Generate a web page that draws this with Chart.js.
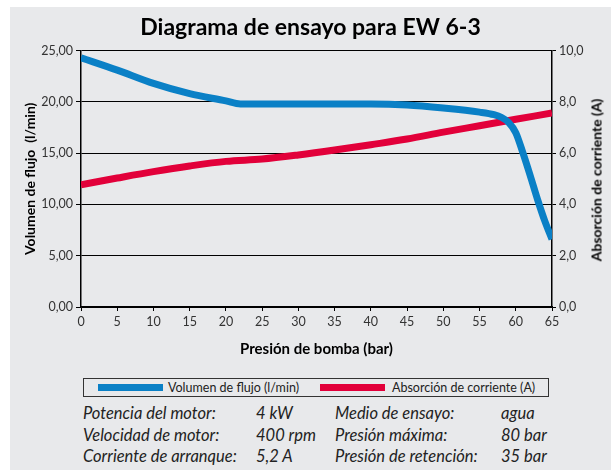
<!DOCTYPE html>
<html lang="es">
<head>
<meta charset="UTF-8" />
<title>Diagrama de ensayo para EW 6-3</title>
<script src="https://cdn.jsdelivr.net/npm/chart.js"></script>
<style>
  body { margin: 0; background: #fff; font-family: Lato, "Open Sans", sans-serif; }
  #panel { position: absolute; left: 10px; top: 7px; width: 601px; height: 463px; background: #e8e9eb; }
  #chart { position: absolute; left: 0; top: 0; }
  #rightTitle { position: absolute; left: 586px; top: 173px; transform: translate(-50%, -50%) rotate(-90deg);
    font-weight: bold; font-size: 14px; color: #000; white-space: nowrap; }
  #legendBox { position: absolute; left: 73px; top: 371px; width: 464px; height: 17px;
    border: 1.5px solid #333; font-size: 12.5px; color: #222; }
  .sw { position: absolute; top: 5px; height: 7px; width: 65px; }
  .lt { position: absolute; top: 0px; line-height: 17px; white-space: nowrap; }
  .info { position: absolute; font-style: italic; font-size: 16.5px; color: #222; white-space: nowrap; line-height: 18px; }
</style>
</head>
<body>
<div id="panel">
  <canvas id="chart" width="601" height="355"></canvas>
  <div id="rightTitle"></div>
  <div id="legendBox"></div>
  <div id="info"></div>
</div>
<script>
const pressureFlow = [0, 5, 10, 15, 20, 22, 25, 30, 35, 40, 45, 50, 55, 57, 58, 59, 60, 61, 62, 63, 64, 65];
const flow = [24.3, 23.1, 21.8, 20.8, 20.1, 19.8, 19.8, 19.8, 19.8, 19.8, 19.7, 19.4, 19.0, 18.75, 18.5, 18.0, 17.0, 15.0, 12.8, 10.5, 8.4, 6.6];
const pressureCurrent = [0, 5, 10, 15, 20, 25, 30, 35, 40, 45, 50, 55, 60, 65];
const current = [4.77, 5.03, 5.28, 5.5, 5.68, 5.77, 5.93, 6.12, 6.33, 6.55, 6.82, 7.07, 7.32, 7.57];
const seriesNames = ["Volumen de flujo (l/min)", "Absorción de corriente (A)"];
const seriesColors = ["#0a80c6", "#e2003a"];
const infoRows = [
  ["Potencia del motor:", "4 kW", "Medio de ensayo:", "agua"],
  ["Velocidad de motor:", "400 rpm", "Presión máxima:", "80 bar"],
  ["Corriente de arranque:", "5,2 A", "Presión de retención:", "35 bar"]
];

Chart.defaults.font.family = "Lato, 'Open Sans', sans-serif";
Chart.defaults.color = "#333";

const toXY = (xs, ys) => xs.map((x, i) => ({ x: x, y: ys[i] }));

new Chart(document.getElementById("chart"), {
  type: "line",
  data: {
    datasets: [
      {
        label: seriesNames[0],
        data: toXY(pressureFlow, flow),
        borderColor: seriesColors[0],
        borderWidth: 7,
        pointRadius: 0,
        cubicInterpolationMode: "monotone",
        yAxisID: "y"
      },
      {
        label: seriesNames[1],
        data: toXY(pressureCurrent, current),
        borderColor: seriesColors[1],
        borderWidth: 7,
        pointRadius: 0,
        cubicInterpolationMode: "monotone",
        yAxisID: "y2"
      }
    ]
  },
  options: {
    responsive: false,
    animation: false,
    devicePixelRatio: 1,
    layout: { padding: 0 },
    plugins: {
      legend: { display: false },
      tooltip: { enabled: false },
      title: {
        display: true,
        text: "Diagrama de ensayo para EW 6-3",
        color: "#000",
        font: { size: 23, weight: "bold" },
        padding: { top: 7, bottom: 9 }
      }
    },
    scales: {
      x: {
        type: "linear",
        min: 0, max: 65,
        ticks: { stepSize: 5, font: { size: 12.5 }, color: "#333", padding: 3 },
        grid: { drawOnChartArea: false, drawTicks: true, tickLength: 4, color: "#000" },
        border: { color: "#000", width: 1.5 },
        title: { display: true, text: "Presión de bomba (bar)", color: "#000",
          font: { size: 15, weight: "bold" }, padding: { top: 2 } },
        afterFit: s => { s.height = 55; }
      },
      y: {
        position: "left",
        min: 0, max: 25,
        ticks: { stepSize: 5, font: { size: 12.5 }, color: "#333", padding: 3,
          callback: v => v.toFixed(2).replace(".", ",") },
        grid: { color: "#000", lineWidth: 1, tickLength: 5 },
        border: { color: "#000", width: 1.5 },
        title: { display: true, text: "Volumen de flujo  (l/min)", color: "#000",
          font: { size: 14, weight: "bold" }, padding: { top: 12, bottom: 0 } },
        afterFit: s => { s.width = 71; }
      },
      y2: {
        position: "right",
        min: 0, max: 10,
        ticks: { stepSize: 2, font: { size: 12.5 }, color: "#333", padding: 3,
          callback: v => v.toFixed(1).replace(".", ",") },
        grid: { drawOnChartArea: false, color: "#000", tickLength: 4 },
        border: { color: "#000", width: 1.5 },
        afterFit: s => { s.width = 59; }
      }
    }
  }
});

// título del eje derecho (leído de abajo hacia arriba, como el izquierdo)
document.getElementById("rightTitle").textContent = seriesNames[1];

// leyenda
const box = document.getElementById("legendBox");
const swLeft = [14, 236];
const txtLeft = [84, 308];
seriesNames.forEach((name, i) => {
  box.insertAdjacentHTML("beforeend",
    `<div class="sw" style="left:${swLeft[i]}px;background:${seriesColors[i]}"></div>` +
    `<div class="lt" style="left:${txtLeft[i]}px">${name}</div>`);
});

// datos del motor
const colX = [73, 246, 325, 491];
const rowY = [397, 419, 440];
const info = document.getElementById("info");
infoRows.forEach((row, r) => {
  row.forEach((t, c) => {
    info.insertAdjacentHTML("beforeend",
      `<div class="info" style="left:${colX[c]}px;top:${rowY[r]}px">${t}</div>`);
  });
});
</script>
</body>
</html>
